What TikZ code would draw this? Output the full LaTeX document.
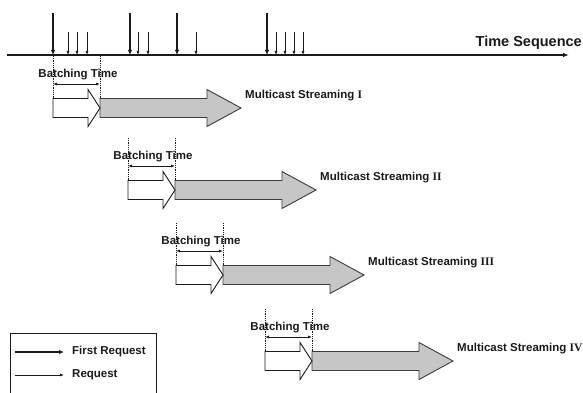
\documentclass[tikz,border=0pt]{standalone}
\usepackage{fontspec}
\setmainfont{Liberation Sans}
\newfontfamily\numeralfont{Liberation Serif}
\usetikzlibrary{arrows.meta,positioning}
\definecolor{Ink}{HTML}{1A1A1A}
\definecolor{StreamFill}{HTML}{C6C6C6}
\tikzset{
  timeline/.style={-{Latex[length=6pt,width=4.5pt]}, draw=Ink, line width=1.3pt},
  firstreq/.style={-{Latex[length=5pt,width=4.5pt]}, draw=Ink, line width=1.6pt},
  req/.style={-{Latex[length=4pt,width=3pt]}, draw=Ink, line width=0.7pt},
  batchmark/.style={draw=Ink, densely dotted, line width=0.8pt},
  batchspan/.style={{Latex[length=4pt,width=3pt]}-{Latex[length=4pt,width=3pt]}, draw=Ink, line width=0.8pt},
  waitarrow/.style={draw=Ink, fill=white, line width=0.9pt, line join=miter},
  streamarrow/.style={draw=Ink!85, fill=StreamFill, line width=0.9pt, line join=miter},
  legendbox/.style={draw=Ink, line width=0.9pt},
  caption/.style={font=\bfseries\fontsize{11.5}{13}\selectfont, text=Ink, inner sep=0pt},
  axistitle/.style={font=\bfseries\fontsize{14.5}{16}\selectfont, text=Ink, inner sep=0pt},
}

\begin{document}
\begin{tikzpicture}[x=1pt, y=-1pt]
  \useasboundingbox (0,0) rectangle (583,393);

  % Time axis with first and following requests.
  \coordinate (axisStart) at (7,55);
  \coordinate (axisEnd) at (569,55);
  \draw[timeline] (axisStart) -- (axisEnd);
  \node[axistitle, anchor=base east] (timeSeq) at (582,47) {Time Sequence};

  \foreach \x in {53,130,177,267} {
    \coordinate (first\x) at (\x,13);
    \draw[firstreq] (first\x) -- (first\x |- axisStart);
  }
  \foreach \x in {68,77,87,138,148,196,276,285,294,303} {
    \coordinate (req\x) at (\x,32);
    \draw[req] (req\x) -- (req\x |- axisStart);
  }

  % One batching window and one multicast stream per first request.
  \foreach \x/\y/\n/\r in {53/108/1/I, 128/190/2/II, 176/275/3/III, 265/361/4/IV} {
    \coordinate (batchStart\n) at (\x,\y-9.5);
    \coordinate (batchEnd\n) at (\x+47,\y-9.5);
    \coordinate (markTop\n) at (\x,\y-52);
    \coordinate (markTopEnd\n) at (\x+47,\y-52);

    \draw[streamarrow] (\x+47,\y-9.5) -- (\x+154,\y-9.5) -- (\x+154,\y-18.5) -- (\x+188,\y)
      -- (\x+154,\y+18.5) -- (\x+154,\y+9.5) -- (\x+47,\y+9.5) -- cycle;
    \draw[waitarrow] (\x,\y-9.5) -- (\x+35,\y-9.5) -- (\x+35,\y-18.5) -- (\x+47,\y)
      -- (\x+35,\y+18.5) -- (\x+35,\y+9.5) -- (\x,\y+9.5) -- cycle;

    \draw[batchmark] (markTop\n) -- (batchStart\n);
    \draw[batchmark] (markTopEnd\n) -- (batchEnd\n);

    \node[caption] (batchTime\n) at (\x+25,\y-33) {Batching Time};
    \coordinate (spanL\n) at (\x,\y-24);
    \coordinate (spanR\n) at (\x+47,\y-24);
    \draw[batchspan] (spanL\n) -- (spanR\n);

    \node[caption, anchor=west] (stream\n) at (\x+192,\y-12) {Multicast Streaming\ {\numeralfont\bfseries\r}};
  }

  % Legend, cut off by the lower edge.
  \draw[legendbox] (10,333) rectangle (156,398);
  \coordinate (legFirstL) at (15,352);
  \coordinate (legFirstR) at (64,352);
  \draw[firstreq] (legFirstL) -- (legFirstR);
  \node[caption, anchor=west] (legFirst) at (72,352) {First Request};
  \coordinate (legReqL) at (15,375);
  \coordinate (legReqR) at (64,375);
  \draw[req] (legReqL) -- (legReqR);
  \node[caption, anchor=west] (legReq) at (72,375) {Request};

\end{tikzpicture}
\end{document}
